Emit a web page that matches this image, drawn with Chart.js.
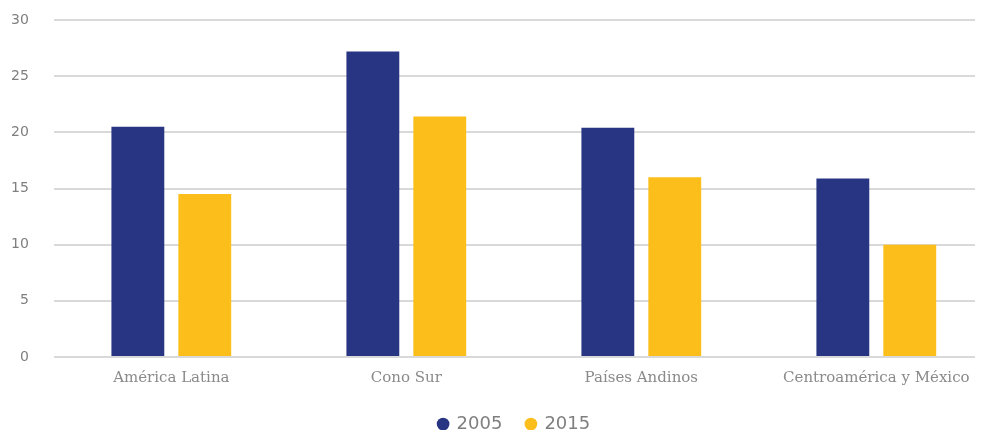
<!DOCTYPE html>
<html><head><meta charset="utf-8">
<script src="https://cdn.jsdelivr.net/npm/chart.js@4"></script>
<style>html,body{margin:0;padding:0;background:#fff}#wrap{width:986px;height:430px}</style>
</head><body><div id="wrap"><canvas id="c" width="986" height="430"></canvas></div>
<script>
const categories = ["América Latina", "Cono Sur", "Países Andinos", "Centroamérica y México"];
const series2005 = [20.5, 27.2, 20.4, 15.9];
const series2015 = [14.5, 21.4, 16.0, 10.0];
const seriesLabels = ["2005", "2015"];
const yTicks = [0, 5, 10, 15, 20, 25, 30];
// horizontal axis range (in category units); the source chart's category band runs a bit past the gridlines
const xRange = {min: -0.5, max: 3.42};

const toPoints = arr => arr.map((v, i) => ({x: i, y: v}));

new Chart(document.getElementById('c'), {
  type: 'bar',
  data: {
    datasets: [
      {label: seriesLabels[0], data: toPoints(series2005), backgroundColor: '#283583', categoryPercentage: 0.5695, barPercentage: 0.79},
      {label: seriesLabels[1], data: toPoints(series2015), backgroundColor: '#FBBE1B', categoryPercentage: 0.5695, barPercentage: 0.79}
    ]
  },
  options: {
    responsive: false, animation: false,
    layout: {padding: {top: 20, right: 11, left: -14, bottom: -13}},
    plugins: {
      tooltip: {enabled: false},
      legend: {
        position: 'bottom', fullSize: false,
        labels: {usePointStyle: true, pointStyle: 'circle', boxWidth: 9, boxHeight: 9, padding: 24,
          color: '#7f7f7f', font: {family: 'DejaVu Sans', size: 18}}
      }
    },
    scales: {
      x: {
        type: 'linear', offset: false, min: xRange.min, max: xRange.max,
        afterBuildTicks: a => { a.ticks = categories.map((c, i) => ({value: i})); },
        grid: {display: false}, border: {display: false},
        ticks: {color: '#8a8a8a', font: {family: 'DejaVu Serif', size: 15}, padding: 4,
          autoSkip: false, maxRotation: 0, callback: v => categories[v]}
      },
      y: {
        min: 0, max: 30,
        afterBuildTicks: a => { a.ticks = yTicks.map(v => ({value: v})); },
        afterFit: s => { s.paddingTop = 0; s.paddingBottom = 0; },
        grid: {color: '#d9d9d9', lineWidth: 2, drawTicks: false},
        border: {display: false},
        ticks: {color: '#7f7f7f', font: {family: 'DejaVu Sans', size: 14}, padding: 25}
      }
    }
  }
});
</script></body></html>
